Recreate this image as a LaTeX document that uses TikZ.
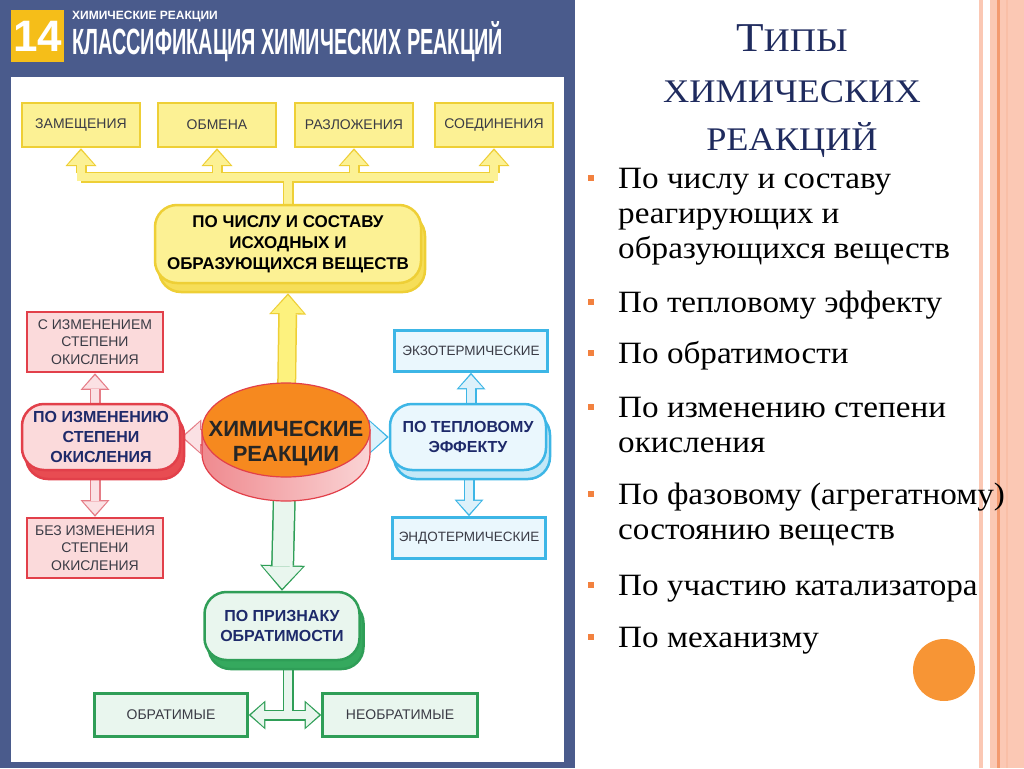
\documentclass[tikz,border=0pt]{standalone}
\usepackage{fontspec}
\usepackage{graphicx}
\setmainfont{Liberation Serif}
\setsansfont{Liberation Sans}
\newfontfamily\slidefont[FakeStretch=1.07]{Liberation Serif}
\newfontfamily\headfont[FakeStretch=1.1]{Liberation Serif}
\usetikzlibrary{shapes.geometric,shadows,arrows.meta,calc,backgrounds}

\definecolor{panel}{HTML}{4A5B8C}
\definecolor{badge}{HTML}{F5BE19}
\definecolor{yline}{HTML}{EECF36}
\definecolor{yfill}{HTML}{FCF194}
\definecolor{yarrow}{HTML}{FDF27E}
\definecolor{yshade}{HTML}{F6DE58}
\definecolor{rline}{HTML}{E2404A}
\definecolor{rfill}{HTML}{FBDADB}
\definecolor{rshade}{HTML}{E84C52}
\definecolor{rarrow}{HTML}{E57C86}
\definecolor{rarrowfill}{HTML}{FBE1E4}
\definecolor{bline}{HTML}{3DB6E6}
\definecolor{bfill}{HTML}{EAF7FD}
\definecolor{bshade}{HTML}{C4E8F7}
\definecolor{barrowfill}{HTML}{DDF1FA}
\definecolor{gline}{HTML}{2F9E57}
\definecolor{gfill}{HTML}{E9F6EE}
\definecolor{gshade}{HTML}{35A95E}
\definecolor{navy}{HTML}{1E2A6A}
\definecolor{ink}{HTML}{3A3B45}
\definecolor{chemtop}{HTML}{F6891F}
\definecolor{sidedark}{HTML}{EF8A8F}
\definecolor{sidelight}{HTML}{FAD4D5}
\definecolor{title}{HTML}{1F2B5E}
\definecolor{accent}{HTML}{F2813F}
\definecolor{stripe}{HTML}{FBC8B4}
\definecolor{stripedark}{HTML}{F39A70}

\tikzset{
  leaf/.style 2 args={draw=#1, fill=#2, line width=2.5pt, inner sep=2pt, align=center,
    text=ink, font=\sffamily\fontsize{14}{17.5}\selectfont},
  group/.style n args={3}{draw=#1, fill=#2, line width=2.5pt, rounded corners=22pt,
    copy shadow={shadow xshift=4pt, shadow yshift=-9pt, fill=#3, draw=#1},
    align=center, text=navy, font=\sffamily\bfseries\fontsize{16}{20}\selectfont},
  pipe/.style n args={3}{draw=#2, line width=#3pt, preaction={draw=#1, line width=#3pt+3pt}},
  fat/.style n args={4}{draw=#2, line width=#3pt, shorten >=2.2pt,
    -{Triangle[length=0.55*#4pt, width=#4pt, line width=0pt]},
    preaction={draw=#1, line width=#3pt+3pt, shorten >=0pt,
      -{Triangle[length=0.55*#4pt+3.5pt, width=#4pt+5pt, line width=0pt]}}},
  fatboth/.style n args={4}{draw=#2, line width=#3pt, shorten >=2.2pt, shorten <=2.2pt,
    {Triangle[length=0.55*#4pt, width=#4pt, line width=0pt]}-{Triangle[length=0.55*#4pt, width=#4pt, line width=0pt]},
    preaction={draw=#1, line width=#3pt+3pt, shorten >=0pt, shorten <=0pt,
      {Triangle[length=0.55*#4pt+3.5pt, width=#4pt+5pt, line width=0pt]}-{Triangle[length=0.55*#4pt+3.5pt, width=#4pt+5pt, line width=0pt]}}},
  item/.style={anchor=base west, inner sep=0pt, align=left, font=\slidefont\fontsize{31}{35}\selectfont},
  head/.style={anchor=base, inner sep=0pt, text=title, font=\headfont\fontsize{33}{33}\selectfont},
}

\begin{document}
\begin{tikzpicture}[x=1pt,y=-1pt]
\useasboundingbox (0,0) rectangle (1024,768);

% poster
\begin{scope}[on background layer]
\fill[panel] (0,0) rectangle (575,768);
\fill[white] (11,77) rectangle (564,762);
\end{scope}
\node[fill=badge, minimum width=53pt, minimum height=52pt, inner sep=0pt, text=white,
  font=\sffamily\bfseries\fontsize{44}{44}\selectfont] (num) at (37.5,36) {14};
\node[anchor=base west, inner sep=0pt, text=white, font=\sffamily\bfseries\fontsize{12}{12}\selectfont]
  (topic) at (72,20) {ХИМИЧЕСКИЕ РЕАКЦИИ};
\node[anchor=south west, inner sep=0pt, text=white] (poster) at (72,62)
  {\resizebox{431pt}{33pt}{\sffamily\bfseries КЛАССИФИКАЦИЯ ХИМИЧЕСКИХ РЕАКЦИЙ}};

\node[leaf={yline}{yfill}, minimum width=118pt, minimum height=44pt] (subst) at (81,125) {ЗАМЕЩЕНИЯ};
\node[leaf={yline}{yfill}, minimum width=118pt, minimum height=44pt] (exch) at (217,125) {ОБМЕНА};
\node[leaf={yline}{yfill}, minimum width=118pt, minimum height=44pt] (decomp) at (354,125) {РАЗЛОЖЕНИЯ};
\node[leaf={yline}{yfill}, minimum width=118pt, minimum height=44pt] (comb) at (494,125) {СОЕДИНЕНИЯ};

\node[group={yline}{yfill}{yshade}, minimum width=266pt, minimum height=78pt, text=black,
  font=\sffamily\bfseries\fontsize{17}{21}\selectfont] (amount) at (288,244)
  {ПО ЧИСЛУ И СОСТАВУ\\ИСХОДНЫХ И\\ОБРАЗУЮЩИХСЯ ВЕЩЕСТВ};

% cylinder side of the centre disc
\shade[left color=sidedark, right color=sidelight, draw=rline, line width=1.2pt]
  (202,430) -- (202,454) arc[start angle=180, end angle=0, x radius=84, y radius=47] -- (370,430) -- cycle;
\node[ellipse, minimum width=168pt, minimum height=94pt, inner sep=0pt, fill=chemtop, draw=rline,
  line width=1.2pt, text=black!85, font=\sffamily\bfseries\fontsize{22}{25}\selectfont] (chem) at (286,430)
  {\raisebox{-31pt}[0pt][0pt]{\makebox[0pt]{\begin{tabular}[b]{@{}c@{}}ХИМИЧЕСКИЕ\\РЕАКЦИИ\end{tabular}}}};

\node[leaf={rline}{rfill}, minimum width=136pt, minimum height=60pt] (oxtop) at (95,342) {С ИЗМЕНЕНИЕМ\\СТЕПЕНИ\\ОКИСЛЕНИЯ};
\node[group={rline}{rfill}{rshade}, minimum width=158pt, minimum height=66pt] (oxid) at (101,437) {ПО ИЗМЕНЕНИЮ\\СТЕПЕНИ\\ОКИСЛЕНИЯ};
\node[leaf={rline}{rfill}, minimum width=136pt, minimum height=60pt] (oxbot) at (95,548) {БЕЗ ИЗМЕНЕНИЯ\\СТЕПЕНИ\\ОКИСЛЕНИЯ};

\node[leaf={bline}{bfill}, minimum width=153pt, minimum height=41pt, font=\sffamily\fontsize{13.5}{16}\selectfont] (exo) at (471,351) {ЭКЗОТЕРМИЧЕСКИЕ};
\node[group={bline}{bfill}{bshade}, minimum width=156pt, minimum height=66pt] (heat) at (468,437) {ПО ТЕПЛОВОМУ\\ЭФФЕКТУ};
\node[leaf={bline}{bfill}, minimum width=153pt, minimum height=41pt, font=\sffamily\fontsize{13.5}{16}\selectfont] (endo) at (469,538) {ЭНДОТЕРМИЧЕСКИЕ};

\node[group={gline}{gfill}{gshade}, minimum width=155pt, minimum height=68pt] (rev) at (282,626) {ПО ПРИЗНАКУ\\ОБРАТИМОСТИ};
\node[leaf={gline}{gfill}, minimum width=153pt, minimum height=43pt] (yes) at (171,715) {ОБРАТИМЫЕ};
\node[leaf={gline}{gfill}, minimum width=155pt, minimum height=43pt] (no) at (400,715) {НЕОБРАТИМЫЕ};

\begin{scope}[on background layer]
% yellow tree
\coordinate (bar) at (288,177);
\draw[pipe={yline}{yfill}{8}, line cap=rect] (subst.south |- bar) -- (comb.south |- bar);
\foreach \n in {subst,exch,decomp,comb}
  \draw[fat={yline}{yfill}{8}{26}] ($(\n.south |- bar)+(0,-4)$) -- (\n.south);
\draw[pipe={yline}{yfill}{8}] (amount.center -| bar) -- ($(bar)+(0,4)$);
\draw[fat={yline}{yarrow}{16}{32}] (chem.center) -- ($(amount.south)+(0,9)$);

% side arrows
\draw[fat={rarrow}{rarrowfill}{14}{30}] (chem.center |- oxid.east) -- (oxid.east);
\draw[fat={bline}{barrowfill}{14}{30}] (chem.center |- heat.west) -- (heat.west);
\draw[fat={rarrow}{rarrowfill}{8}{24}] (oxid.center -| oxtop.south) -- (oxtop.south);
\draw[fat={rarrow}{rarrowfill}{8}{24}] (oxid.center -| oxbot.north) -- (oxbot.north);
\draw[fat={bline}{barrowfill}{8}{24}] (heat.center -| exo.south) -- (exo.south);
\draw[fat={bline}{barrowfill}{8}{24}] (heat.center -| endo.north) -- (endo.north);

% green branch
\coordinate (fork) at (288,715);
\draw[fat={gline}{gfill}{20}{40}] (chem.center) -- (rev.north);
\draw[fatboth={gline}{gfill}{8}{24}] (yes.east) -- (no.west);
\draw[pipe={gline}{gfill}{8}] (rev.center -| fork) -- ($(fork)+(0,-4)$);
\end{scope}

% right edge
\fill[stripe] (979,0) rectangle (983,768);
\fill[stripe] (990,0) rectangle (1024,768);
\fill[stripedark] (997,0) rectangle (999.5,768);
\fill[stripe!80!stripedark] (1006,0) rectangle (1008,768);
\fill[chemtop!90!white] (944,670) circle[radius=31];

% slide text
\node[head] (t1) at (792,52) {{\fontsize{41}{41}\selectfont Т}ИПЫ};
\node[head] (t2) at (792,102) {ХИМИЧЕСКИХ};
\node[head] (t3) at (792,150) {РЕАКЦИЙ};

\foreach \y in {188,312,363,417,504,595,647}
  \fill[accent] (588,\y-13) rectangle +(6,6);
\node[item] (i1) at (618,258) {По числу и составу\\реагирующих и\\образующихся веществ};
\node[item] (i2) at (618,312) {По тепловому эффекту};
\node[item] (i3) at (618,363) {По обратимости};
\node[item] (i4) at (618,452) {По изменению степени\\окисления};
\node[item] (i5) at (618,539) {По фазовому (агрегатному)\\состоянию веществ};
\node[item] (i6) at (618,595) {По участию катализатора};
\node[item] (i7) at (618,647) {По механизму};
\end{tikzpicture}
\end{document}
